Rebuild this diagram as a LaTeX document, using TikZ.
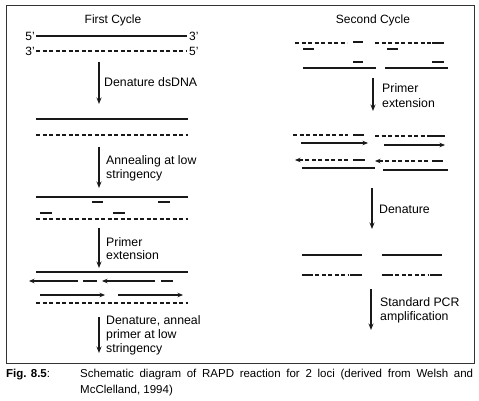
\documentclass[tikz,border=0pt]{standalone}
\usepackage{fontspec}
\setmainfont{Liberation Sans}
\usetikzlibrary{arrows.meta}
\begin{document}
\begin{tikzpicture}[x=1pt,y=-1pt,
  strand/.style={line width=1.1pt,draw=black!90},
  dstrand/.style={line width=1.1pt,draw=black!90,dash pattern=on 4pt off 2.5pt},
  primer/.style={line width=1.1pt,draw=black!90},
  step arrow/.style={line width=1.1pt,draw=black!90,-{Stealth[length=6.5pt,width=5pt]}},
  ext/.style={line width=1.1pt,draw=black!90,-{Stealth[length=5.5pt,width=4.5pt]}},
  lbl/.style={anchor=base west,inner sep=0pt,font=\fontsize{12.3}{14}\selectfont},
  ttl/.style={anchor=base,inner sep=0pt,font=\fontsize{12}{14}\selectfont},
  endlbl/.style={inner sep=0pt,font=\fontsize{12}{14}\selectfont},
  captext/.style={anchor=base west,inner sep=0pt,font=\fontsize{11.5}{14}\selectfont}]
\useasboundingbox (0,0) rectangle (479,400);
% frame
\draw[line width=1pt,draw=black!80] (6,5) rectangle (474,363);
% titles
\node[ttl] (t1) at (113,23) {First Cycle};
\node[ttl] (t2) at (373,23) {Second Cycle};
% ---------- First cycle ----------
\node[endlbl,anchor=base east] (e5a) at (35,40) {5’};
\node[endlbl,anchor=base west] (e3a) at (189,40) {3’};
\node[endlbl,anchor=base east] (e3b) at (35,55) {3’};
\node[endlbl,anchor=base west] (e5b) at (189,55) {5’};
\draw[strand] (36,36) -- (187,36);
\draw[dstrand] (36,51) -- (187,51);
\coordinate (a1s) at (99,62); \coordinate (a1e) at (99,104);
\draw[step arrow] (a1s) -- (a1e);
\node[lbl] (l1) at (104,86) {Denature dsDNA};
\draw[strand] (36,119) -- (188,119);
\draw[dstrand] (36,135) -- (188,135);
\coordinate (a2s) at (99,147); \coordinate (a2e) at (99,188);
\draw[step arrow] (a2s) -- (a2e);
\node[lbl] (l2a) at (106,164) {Annealing at low};
\node[lbl] (l2b) at (106,178) {stringency};
\draw[strand] (36,197) -- (188,197);
\draw[primer] (92,202) -- (103,202);
\draw[primer] (158,202) -- (170,202);
\draw[primer] (40,213) -- (52,213);
\draw[primer] (113,213) -- (125,213);
\draw[dstrand] (36,219) -- (188,219);
\coordinate (a3s) at (99,228); \coordinate (a3e) at (99,268);
\draw[step arrow] (a3s) -- (a3e);
\node[lbl] (l3a) at (106,246) {Primer};
\node[lbl] (l3b) at (106,259) {extension};
\draw[strand] (36,272) -- (188,272);
\draw[ext] (78,281) -- (29,281);
\draw[primer] (83,281) -- (97,281);
\draw[ext] (155,281) -- (102,281);
\draw[primer] (161,281) -- (173,281);
\draw[ext] (40,295) -- (105,295);
\draw[ext] (118,295) -- (183,295);
\draw[dstrand] (36,303) -- (188,303);
\coordinate (a4s) at (99,317); \coordinate (a4e) at (99,353);
\draw[step arrow] (a4s) -- (a4e);
\node[lbl] (l4a) at (106,324) {Denature, anneal};
\node[lbl] (l4b) at (106,338) {primer at low};
\node[lbl] (l4c) at (106,352) {stringency};
% ---------- Second cycle ----------
\draw[dstrand] (295,43) -- (347,43);
\draw[primer] (353,42) -- (363,42);
\draw[dstrand] (375,43) -- (432,43);
\draw[primer] (432,43) -- (444,43);
\draw[primer] (303,49) -- (314,49);
\draw[primer] (387,49) -- (398,49);
\draw[primer] (353,62) -- (363,62);
\draw[primer] (432,62) -- (444,62);
\draw[strand] (303,68) -- (376,68);
\draw[strand] (385,68) -- (448,68);
\coordinate (b1s) at (373,78); \coordinate (b1e) at (373,111);
\draw[step arrow] (b1s) -- (b1e);
\node[lbl] (m1a) at (382,92) {Primer};
\node[lbl] (m1b) at (382,107) {extension};
\draw[dstrand] (293,135) -- (348,135);
\draw[primer] (353,135) -- (364,135);
\draw[dstrand] (375,136) -- (430,136);
\draw[primer] (430,136) -- (445,136);
\draw[ext] (301,143) -- (368,143);
\draw[ext] (384,145) -- (445,145);
\draw[ext,dash pattern=on 4pt off 2.5pt] (348,160) -- (295,160);
\draw[primer] (353,160) -- (365,160);
\draw[ext,dash pattern=on 4pt off 2.5pt] (428,161) -- (375,161);
\draw[primer] (432,161) -- (443,161);
\draw[strand] (302,168) -- (375,168);
\draw[strand] (383,170) -- (448,170);
\coordinate (b2s) at (372,188); \coordinate (b2e) at (372,229);
\draw[step arrow] (b2s) -- (b2e);
\node[lbl] (m2) at (379,213) {Denature};
\draw[strand] (302,255) -- (362,255);
\draw[strand] (382,255) -- (442,255);
\draw[primer] (302,275) -- (313,275);
\draw[dstrand] (315,275) -- (349,275);
\draw[primer] (350,275) -- (362,275);
\draw[primer] (382,275) -- (393,275);
\draw[dstrand] (395,275) -- (429,275);
\draw[primer] (430,275) -- (442,275);
\coordinate (b3s) at (371,289); \coordinate (b3e) at (371,330);
\draw[step arrow] (b3s) -- (b3e);
\node[lbl] (m3a) at (380,306) {Standard PCR};
\node[lbl] (m3b) at (380,320) {amplification};
% caption
\node[captext,font=\fontsize{11.5}{14}\selectfont\bfseries] (cf) at (6,377) {Fig. 8.5\textmd{:}};
\node[captext] (c1) at (80,377) {\hbox to 393pt{Schematic diagram of RAPD reaction for 2 loci (derived from Welsh and}};
\node[captext] (c2) at (80,393) {McClelland, 1994)};
\end{tikzpicture}
\end{document}
